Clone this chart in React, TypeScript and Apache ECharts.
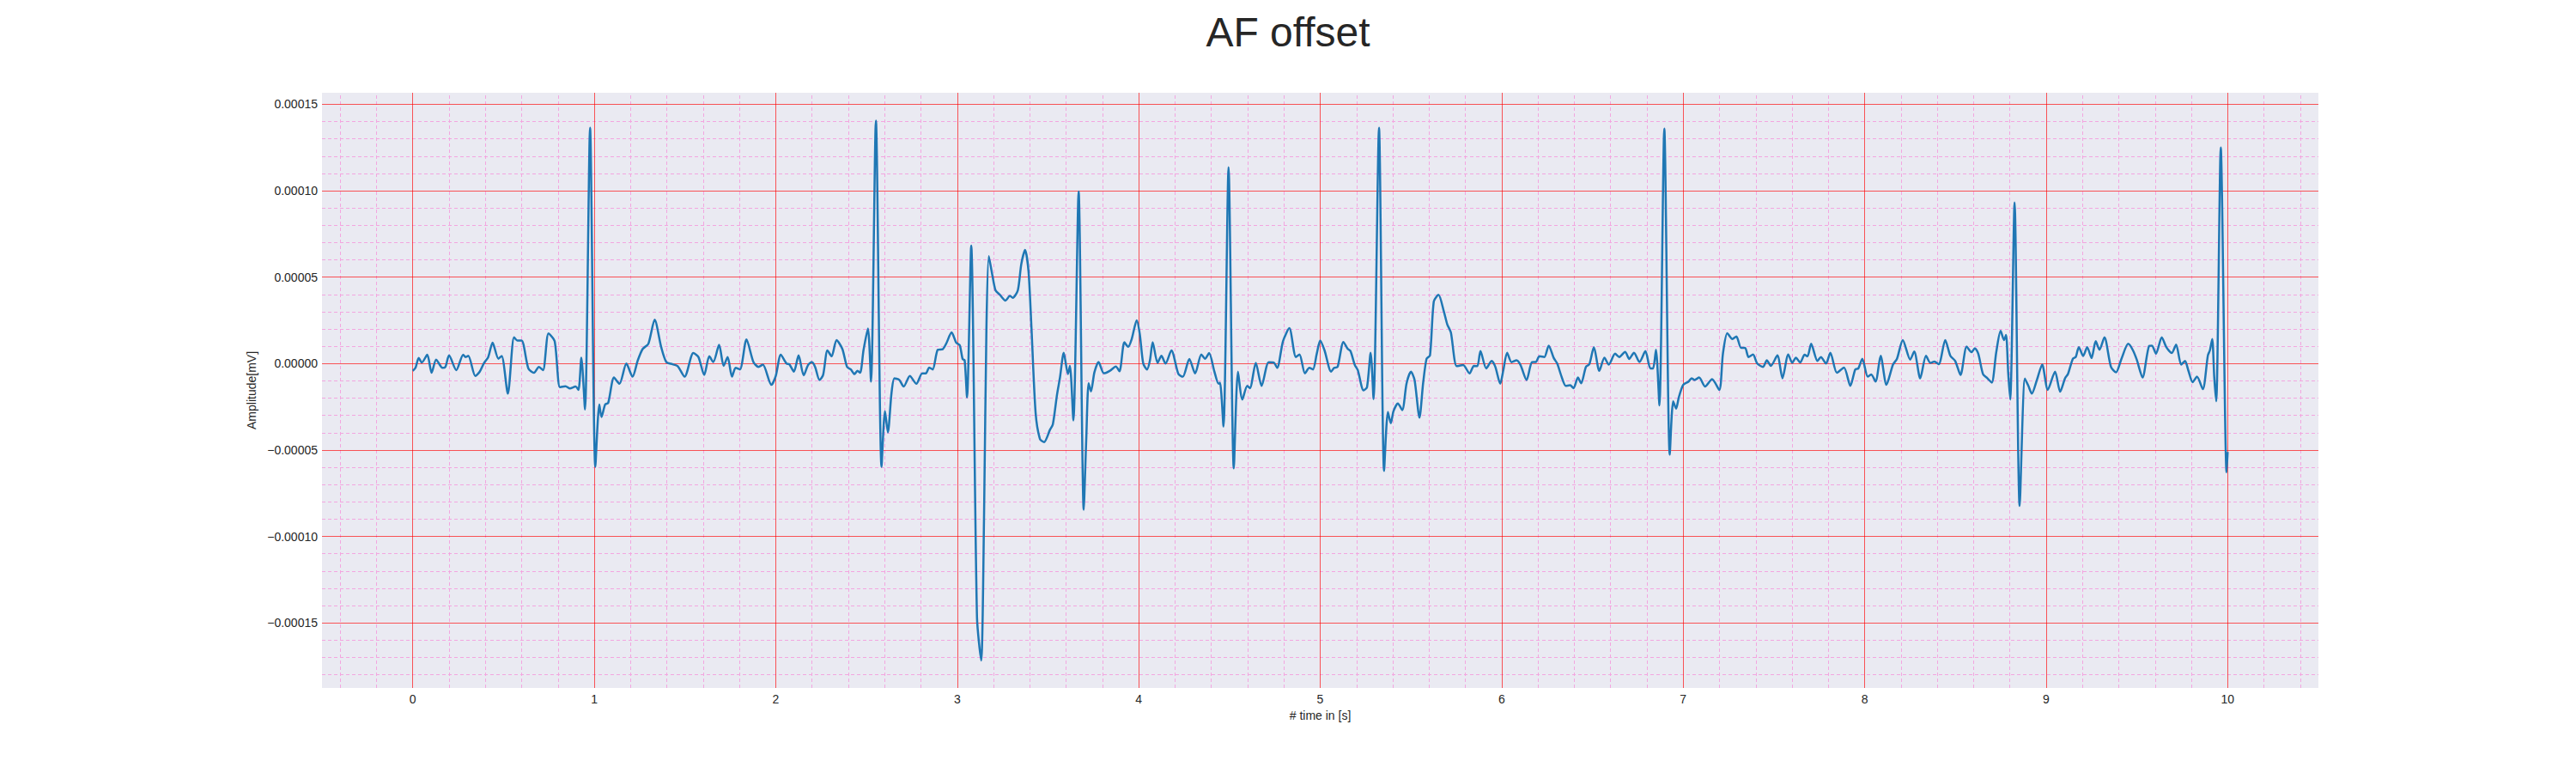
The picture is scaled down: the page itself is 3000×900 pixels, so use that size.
import { useEffect, useRef } from "react";
import * as echarts from "echarts";

// sample times [s] and amplitudes [µV]
const timeSec = [
    0.0, 0.015, 0.033, 0.05, 0.08, 0.104, 0.129, 0.164, 0.18, 0.2, 0.24, 0.278, 0.29, 0.306, 0.345, 0.369, 0.393,
    0.416, 0.44, 0.472, 0.49, 0.524, 0.558, 0.577, 0.6, 0.637, 0.668, 0.695, 0.718, 0.748, 0.782, 0.811, 0.842,
    0.866, 0.897, 0.913, 0.929, 0.949, 0.977,
    1.006, 1.028, 1.04, 1.06, 1.077, 1.109, 1.139, 1.177, 1.211, 1.24, 1.267, 1.298, 1.333, 1.369, 1.397, 1.432,
    1.46, 1.498, 1.546, 1.574, 1.606, 1.634, 1.656, 1.688, 1.713, 1.735, 1.759, 1.779, 1.803, 1.839, 1.877, 1.905,
    1.929, 1.976,
    2.0, 2.028, 2.06, 2.075, 2.1, 2.126, 2.154, 2.178, 2.198, 2.217, 2.241, 2.261, 2.285, 2.308, 2.335, 2.367,
    2.393, 2.414, 2.434, 2.45, 2.465, 2.484, 2.508, 2.525, 2.552, 2.583, 2.602, 2.618, 2.638, 2.654, 2.681, 2.705,
    2.739, 2.775, 2.807, 2.827, 2.846, 2.865, 2.893, 2.92, 2.94, 2.969, 2.995,
    3.014, 3.03, 3.041, 3.054, 3.077, 3.109, 3.132, 3.148, 3.161, 3.174, 3.192, 3.211, 3.235, 3.266, 3.29, 3.306,
    3.334, 3.353, 3.374, 3.393, 3.409, 3.432, 3.456, 3.479, 3.511, 3.527, 3.55, 3.566, 3.587, 3.61, 3.621, 3.64,
    3.669, 3.697, 3.711, 3.724, 3.737, 3.756, 3.779, 3.808, 3.842, 3.874, 3.894, 3.921, 3.942, 3.961, 3.989,
    4.006, 4.025, 4.046, 4.062, 4.077, 4.104, 4.125, 4.148, 4.18, 4.219, 4.243, 4.279, 4.311, 4.345, 4.366, 4.388,
    4.416, 4.44, 4.448, 4.467, 4.495, 4.524, 4.547, 4.571, 4.598, 4.613, 4.645, 4.677, 4.716, 4.744, 4.763, 4.795,
    4.83, 4.866, 4.886, 4.916, 4.94, 4.96, 4.981,
    5.0, 5.024, 5.06, 5.077, 5.096, 5.128, 5.152, 5.167, 5.191, 5.207, 5.239, 5.258, 5.278, 5.294, 5.324, 5.352,
    5.373, 5.389, 5.404, 5.428, 5.452, 5.476, 5.5, 5.52, 5.547, 5.567, 5.586, 5.605, 5.626, 5.652, 5.681, 5.7,
    5.72, 5.752, 5.788, 5.823, 5.847, 5.866, 5.883, 5.915, 5.945, 5.965, 5.992,
    6.009, 6.03, 6.054, 6.082, 6.104, 6.137, 6.167, 6.188, 6.208, 6.235, 6.259, 6.287, 6.306, 6.33, 6.353, 6.377,
    6.396, 6.42, 6.438, 6.464, 6.483, 6.508, 6.538, 6.566, 6.59, 6.625, 6.648, 6.68, 6.703, 6.729, 6.759, 6.792,
    6.819, 6.834, 6.85, 6.869, 6.896, 6.926, 6.945, 6.961, 6.976,
    7.0, 7.03, 7.046, 7.062, 7.088, 7.121, 7.159, 7.199, 7.219, 7.243, 7.271, 7.293, 7.319, 7.341, 7.36, 7.385,
    7.408, 7.44, 7.461, 7.483, 7.519, 7.547, 7.579, 7.601, 7.621, 7.645, 7.669, 7.685, 7.705, 7.74, 7.759, 7.787,
    7.811, 7.847, 7.886, 7.921, 7.948, 7.965, 7.987,
    8.017, 8.036, 8.06, 8.088, 8.12, 8.156, 8.178, 8.21, 8.251, 8.273, 8.306, 8.338, 8.362, 8.384, 8.408, 8.444,
    8.472, 8.499, 8.528, 8.562, 8.589, 8.607, 8.626, 8.652, 8.676, 8.7, 8.725, 8.749, 8.768, 8.779, 8.791, 8.802,
    8.826, 8.854, 8.883, 8.902, 8.921, 8.949, 8.978,
    9.009, 9.049, 9.077, 9.104, 9.12, 9.147, 9.163, 9.18, 9.204, 9.226, 9.25, 9.273, 9.294, 9.321, 9.357, 9.385,
    9.415, 9.452, 9.476, 9.499, 9.531, 9.567, 9.583, 9.605, 9.637, 9.662, 9.692, 9.716, 9.744, 9.765, 9.784, 9.807,
    9.831, 9.863, 9.891, 9.902, 9.915, 9.926, 9.937, 9.962, 9.994, 10.0,
];

const amplitudeUv = [
    -4.2, -2.5, 3.2, 0.6, 5.1, -5.3, 2.3, -2.5, -1.9, 4.7, -3.8, 5.1, 3.8, 4.5, -7.2, -4.7, 0.4,
    3.8, 12.1, 2.8, 4.4, -17.4, 15.2, 13.3, 13.3, -2.8, -5.3, -1.9, -3.8, 17.4, 12.9, -13.6, -13.1,
    -14.4, -13.3, -15.2, 3.4, -26.5, 136.4,
    -59.7, -23.7, -30.9, -23.7, -22.7, -8.1, -11.7, 0, -7.6, 1.9, 8.5, 11.4, 25.4, 9.5, 0.9, -0.4,
    -1.5, -7.6, 6.1, 3.8, -6.6, 4.2, 0.9, 10.8, -1.3, 3.8, -7.6, -2.5, -3.4, 14.0, 0.9, -1.9,
    -0.6, -12.3,
    -7.2, 5.1, 0, -0.4, -4.7, 4.7, -6.8, -0.9, 0.9, -1.9, -9.5, -6.6, 7.6, 4.2, 13.6, 8.5,
    -1.9, -3.4, -6.1, -4.2, -5.3, 8.0, 20.3, -10.4, 140.5, -59.7, -27.5, -39.8, -17.0, -8.5, -9.5, -13.3,
    -7.2, -11.7, -5.7, -5.7, -2.3, -3.4, 8.0, 8.3, 11.7, 18.0, 12.0,
    10.6, 2.6, 1.9, -19.6, 68.3, -147.0, -171.8, -86.8, 20.9, 62.2, 52.1, 42.4, 39.8, 36.4, 39.2, 38.1,
    42.4, 57.5, 65.7, 53.2, 20.9, -28.6, -43.7, -45.4, -38.3, -35.1, -17.9, -8.2, 6.2, -6.0, -1.3, -32.9,
    99.5, -84.6, -43.7, -11.4, -16.1, -5.0, 0.9, -5.6, -4.1, -1.7, -4.5, 12.3, 9.7, 14.0, 25.0,
    17.0, 0, -3.4, 1.9, 12.3, 0.4, 4.5, 0, 7.6, -6.1, -7.6, 2.7, -5.7, 5.3, 2.8, 6.1,
    -4.2, -11.7, -11.0, -36.4, 113.6, -60.6, -4.7, -20.8, -12.9, -14.2, 0.4, -12.9, 0.8, 0.6, -2.5, 12.9,
    20.5, 3.8, 5.3, -5.7, -2.5, -3.4, 5.7,
    13.3, 7.6, -4.7, -2.5, -1.9, 12.5, 8.5, 7.2, -0.9, -3.8, -15.5, -13.6, 6.3, -20.5, 136.4, -62.1,
    -28.0, -34.5, -27.5, -23.1, -26.9, -11.4, -4.7, -9.5, -31.3, -11.4, 2.8, 4.7, 36.0, 39.8, 30.3, 22.7,
    18.0, -1.5, -0.9, -5.7, -1.3, -1.5, 7.2, -2.8, 1.5, -1.9, -11.7,
    -3.8, 6.3, 0.8, 1.9, -0.9, -9.5, 0.8, 0.9, 4.2, 3.8, 10.4, 3.2, 0, -7.6, -12.9, -12.5,
    -14.2, -8.1, -11.4, -1.9, -0.4, 9.5, -4.2, 3.4, -0.6, 5.7, 3.8, 6.8, 2.7, 6.3, 0.9, 7.2,
    -2.8, -2.8, 8.0, -24.2, 136.0, -52.7, -21.8, -26.1, -19.5,
    -12.3, -10.4, -8.5, -9.5, -8.1, -13.3, -9.1, -15.2, 5.7, 17.6, 14.2, 15.7, 9.1, 9.1, 3.8, 5.3,
    0, -1.9, 1.9, -1.3, 4.7, -8.5, 5.3, 0.4, 3.4, 0.6, 5.1, 4.2, 11.4, 1.5, 3.8, 0,
    6.3, -5.3, -2.3, -12.9, -3.4, -2.8, 2.8,
    -7.6, -6.3, -10.4, 4.5, -12.3, -0.6, 2.8, 13.6, 2.3, 7.0, -8.5, 4.5, 0.4, 1.1, -0.4, 13.6,
    4.5, 1.5, -6.6, 9.8, 6.6, 8.9, 5.7, -6.1, -8.5, -11.0, 6.6, 18.9, 13.6, 16.5, -5.7, -20.8,
    93.2, -82.4, -8.7, -12.9, -17.4, -9.5, -0.6,
    -15.2, -4.7, -16.3, -8.5, -6.1, 2.8, 3.8, 9.5, 4.4, 9.5, 3.2, 12.9, 8.0, 15.2, -1.9, -5.1,
    2.8, 11.4, 8.1, 2.3, -8.1, 10.2, 10.4, 5.7, 15.2, 9.5, 6.1, 11.0, -0.6, 1.5, -4.2, -10.8,
    -7.6, -14.8, 4.7, 7.6, 14.2, -7.6, -21.8, 125.0, -62.9, -51.1,
];

const xTickLabels = [0, 1, 2, 3, 4, 5, 6, 7, 8, 9, 10];
const yTickLabels = [-0.00015, -0.0001, -0.00005, 0, 0.00005, 0.0001, 0.00015];

const FONT = "Liberation Sans, Arial, sans-serif";

function fmtY(v: number) {
    const s = Math.abs(v).toFixed(5);
    return v < -1e-12 ? "\u2212" + s : s;
}

function App() {
    const ref = useRef<HTMLDivElement>(null);

    useEffect(() => {
        if (!ref.current) return;
        const chart = echarts.init(ref.current, null, { renderer: "svg" });

        const data = timeSec.map((t, i) => [t, amplitudeUv[i] * 1e-6]);

        // grid lines (minor every 0.2 s / 1e-5, major every 1 s / 5e-5)
        const minorLines: any[] = [];
        for (let i = -2; i <= 52; i++) {
            if (i % 5 !== 0) minorLines.push({ xAxis: i / 5 });
        }
        for (let j = -18; j <= 15; j++) {
            if (j % 5 !== 0) minorLines.push({ yAxis: j * 1e-5 });
        }
        const majorLines: any[] = [
            ...xTickLabels.map((v) => ({ xAxis: v })),
            ...yTickLabels.map((v) => ({ yAxis: v })),
        ];

        chart.setOption({
            animation: false,
            backgroundColor: "#ffffff",
            title: {
                text: "AF offset",
                left: "center",
                top: 8,
                textStyle: { fontFamily: FONT, fontSize: 48, fontWeight: "normal", color: "#262626" },
            },
            grid: {
                left: 375,
                right: 300,
                top: 108,
                bottom: 99,
                show: true,
                backgroundColor: "#EAEAF2",
                borderWidth: 0,
            },
            xAxis: {
                type: "value",
                min: -0.5,
                max: 10.5,
                name: "# time in [s]",
                nameLocation: "middle",
                nameGap: 22,
                nameTextStyle: { fontFamily: FONT, fontSize: 14, color: "#262626" },
                axisLine: { show: false },
                axisTick: { show: false },
                splitLine: { show: false },
                axisLabel: {
                    customValues: xTickLabels,
                    fontFamily: FONT,
                    fontSize: 14,
                    color: "#262626",
                    margin: 6,
                    formatter: (v: number) => String(Math.round(v)),
                },
            },
            yAxis: {
                type: "value",
                min: -0.0001877,
                max: 0.0001567,
                name: "Amplitude[mV]",
                nameLocation: "middle",
                nameGap: 72,
                nameTextStyle: { fontFamily: FONT, fontSize: 14, color: "#262626" },
                axisLine: { show: false },
                axisTick: { show: false },
                splitLine: { show: false },
                axisLabel: {
                    customValues: yTickLabels,
                    fontFamily: FONT,
                    fontSize: 14,
                    color: "#262626",
                    margin: 5,
                    formatter: (v: number) => fmtY(v),
                },
            },
            series: [
                {
                    type: "line",
                    data: [],
                    silent: true,
                    z: 1,
                    markLine: {
                        silent: true,
                        z: 1,
                        precision: 10,
                        symbol: ["none", "none"],
                        label: { show: false },
                        lineStyle: { color: "#f3a6e0", width: 1, type: [4, 3] },
                        data: minorLines,
                    },
                },
                {
                    type: "line",
                    data: [],
                    silent: true,
                    z: 2,
                    markLine: {
                        silent: true,
                        z: 2,
                        precision: 10,
                        symbol: ["none", "none"],
                        label: { show: false },
                        lineStyle: { color: "rgba(255,0,0,0.65)", width: 1, type: "solid" },
                        data: majorLines,
                    },
                },
                {
                    type: "line",
                    data,
                    z: 5,
                    smooth: 0.25,
                    symbol: "none",
                    lineStyle: { color: "#1f77b4", width: 2.5 },
                },
            ],
        });

        return () => {
            chart.dispose();
        };
    }, []);

    return (
        <div
            ref={ref}
            style={{ position: "fixed", left: 0, top: 0, width: "3000px", height: "900px", background: "#fff" }}
        />
    );
}

export default App;
